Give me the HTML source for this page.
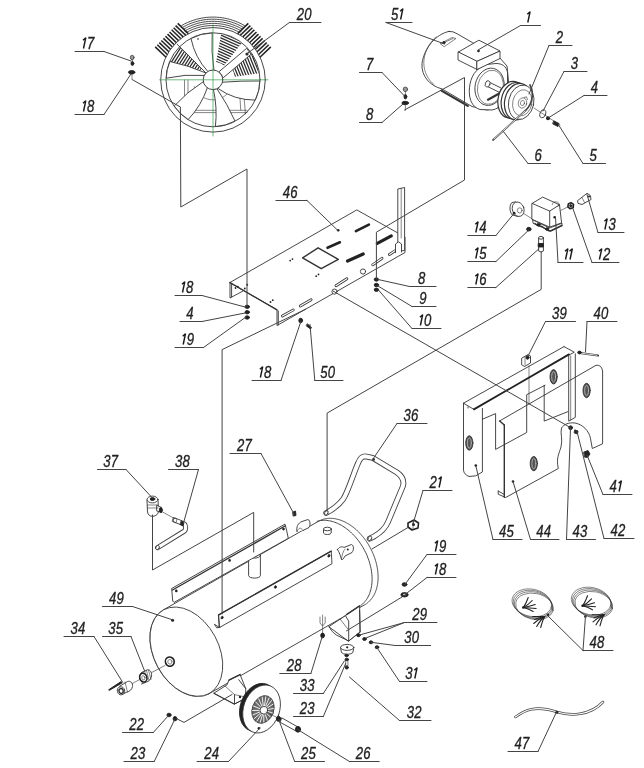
<!DOCTYPE html>
<html><head><meta charset="utf-8"><style>
html,body{margin:0;padding:0;background:#fff;}
svg{display:block;will-change:transform;}
svg *{vector-effect:non-scaling-stroke;}
line,polyline,path,polygon,circle,ellipse{stroke:#333;stroke-width:0.9;fill:none;stroke-linejoin:round;stroke-linecap:round;}
.l{stroke:#444;stroke-width:1;}
.one{stroke:#1a1a1a;stroke-width:1.45;fill:none;stroke-linecap:butt;stroke-linejoin:bevel;}
.w{fill:#fff;}
.d{fill:#222;stroke:none;}
.k{fill:#222;stroke:#222;}
.g{stroke:#3c9a4c;stroke-width:0.7;}
.t{stroke-width:0.6;}
.th{stroke-width:1.4;}
.fin{stroke:#222;stroke-width:1.5;stroke-linecap:butt;}
.rod{stroke:#333;stroke-width:2.2;}
.slot{stroke:#222;stroke-width:2.6;}
.slot2{stroke:#222;stroke-width:3.2;}
.slotw{stroke:#333;stroke-width:2.8;}
.slotwi{stroke:#fff;stroke-width:1.2;}
.tire{stroke:#111;stroke-width:3;}
.spk{stroke:#fff;stroke-width:0.9;}
.hubf{fill:#6a6a6a;stroke:#333;stroke-width:0.8;}
.th2{stroke-width:1.8;stroke:#222;}
.grom{fill:#555;stroke:#222;stroke-width:0.8;}
.gromi{fill:none;stroke:#bbb;stroke-width:0.8;}
.whi{stroke:#fff;stroke-width:0.8;}
.g2{fill:#999;stroke:#333;stroke-width:0.7;}
.fr{stroke:#222;stroke-width:1.1;}
.nut{fill:#fff;stroke:#222;stroke-width:1.6;}
.rod6{stroke:#444;stroke-width:1.7;}
.pr{fill:#fff;stroke:#333;stroke-width:1.2;}
.fin2{stroke:#2a2a2a;stroke-width:1.25;stroke-linecap:butt;}
text{font-family:"Liberation Sans",sans-serif;font-style:italic;font-size:16px;fill:#222;stroke:#222;stroke-width:0.3;}
</style></head><body>
<svg width="644" height="768" viewBox="0 0 644 768">
<rect width="644" height="768" fill="#fff"/>
<polygon points="150,637.3 150,636.5 150,635.8 150,635.1 150.1,634.4 150.1,633.6 150.2,632.9 150.3,632.2 150.4,631.5 150.5,630.8 150.6,630.1 150.7,629.5 150.8,628.8 151,628.1 151.1,627.5 151.3,626.8 151.5,626.2 151.7,625.5 151.9,624.9 152.1,624.3 152.3,623.7 152.5,623.1 152.7,622.5 153,621.9 153.2,621.3 153.5,620.7 153.8,620.2 154.1,619.6 154.4,619.1 154.7,618.6 155,618.1 155.3,617.5 155.7,617 156,616.6 156.4,616.1 156.7,615.6 157.1,615.2 157.5,614.7 157.9,614.3 158.3,613.9 158.7,613.5 159.1,613.1 159.5,612.7 160,612.3 160.4,611.9 160.9,611.6 161.3,611.2 161.8,610.9 162.3,610.6 162.7,610.3 163.2,610 318.5,521.3 319,521 319.5,520.8 320,520.5 320.5,520.3 321,520.1 321.5,519.9 322.1,519.7 322.6,519.5 323.2,519.3 323.7,519.1 324.3,519 324.8,518.9 325.4,518.8 326,518.6 326.5,518.6 327.1,518.5 327.7,518.4 328.3,518.4 328.9,518.3 329.5,518.3 330.1,518.3 330.7,518.3 331.3,518.3 331.9,518.4 332.5,518.4 333.1,518.5 333.8,518.5 334.4,518.6 335,518.7 335.6,518.8 336.3,519 336.9,519.1 337.5,519.3 338.1,519.4 338.8,519.6 339.4,519.8 340,520 340.7,520.2 341.3,520.4 342,520.7 342.6,521 343.2,521.2 343.9,521.5 344.5,521.8 345.1,522.1 345.8,522.4 346.4,522.8 347,523.1 347.6,523.5 348.3,523.8 348.9,524.2 349.5,524.6 350.1,525 350.8,525.4 351.4,525.9 352,526.3 352.6,526.8 353.2,527.2 353.8,527.7 354.4,528.2 355,528.7 355.6,529.2 356.2,529.7 356.7,530.2 357.3,530.8 357.9,531.3 358.5,531.9 359,532.4 359.6,533 360.1,533.6 360.7,534.2 361.2,534.8 361.7,535.4 362.3,536 362.8,536.6 363.3,537.3 363.8,537.9 364.3,538.5 364.8,539.2 365.3,539.9 365.8,540.5 366.3,541.2 366.7,541.9 367.2,542.6 367.6,543.3 368.1,544 368.5,544.7 368.9,545.4 369.3,546.1 369.8,546.9 370.2,547.6 370.5,548.3 370.9,549.1 371.3,549.8 371.7,550.6 372,551.3 372.4,552.1 372.7,552.8 373,553.6 373.3,554.3 373.7,555.1 374,555.9 374.2,556.7 374.5,557.4 374.8,558.2 375.1,559 375.3,559.8 375.5,560.5 375.8,561.3 376,562.1 376.2,562.9 376.4,563.7 376.6,564.4 376.7,565.2 376.9,566 377.1,566.8 377.2,567.5 377.3,568.3 377.5,569.1 377.6,569.9 377.7,570.6 377.8,571.4 377.8,572.2 377.9,572.9 378,573.7 378,574.4 378,575.2 378.1,575.9 378.1,576.7 378.1,577.4 378.1,578.2 378,578.9 378,579.6 378,580.3 377.9,581.1 377.8,581.8 377.8,582.5 377.7,583.2 377.6,583.9 377.5,584.6 377.3,585.2 377.2,585.9 377.1,586.6 376.9,587.2 376.8,587.9 376.6,588.5 376.4,589.2 376.2,589.8 376,590.4 375.8,591 375.5,591.6 375.3,592.2 375.1,592.8 374.8,593.4 374.5,594 374.3,594.5 374,595.1 373.7,595.6 373.4,596.1 373,596.6 372.7,597.2 372.4,597.7 372,598.1 371.7,598.6 371.3,599.1 370.9,599.5 370.6,600 370.2,600.4 369.8,600.8 369.4,601.2 368.9,601.6 368.5,602 368.1,602.4 367.6,602.8 367.2,603.1 366.7,603.5 366.3,603.8 365.8,604.1 365.3,604.4 364.8,604.7 209.6,693.4 209.1,693.7 208.6,693.9 208.1,694.2 207.6,694.4 207,694.6 206.5,694.8 206,695 205.4,695.2 204.9,695.4 204.3,695.6 203.8,695.7 203.2,695.8 202.7,695.9 202.1,696.1 201.5,696.1 200.9,696.2 200.4,696.3 199.8,696.3 199.2,696.4 198.6,696.4 198,696.4 197.4,696.4 196.8,696.4 196.1,696.3 195.5,696.3 194.9,696.2 194.3,696.2 193.7,696.1 193.1,696 192.4,695.9 191.8,695.7 191.2,695.6 190.5,695.4 189.9,695.3 189.3,695.1 188.6,694.9 188,694.7 187.4,694.5 186.7,694.3 186.1,694 185.5,693.7 184.8,693.5 184.2,693.2 183.6,692.9 182.9,692.6 182.3,692.3 181.7,691.9 181,691.6 180.4,691.2 179.8,690.9 179.2,690.5 178.5,690.1 177.9,689.7 177.3,689.3 176.7,688.8 176.1,688.4 175.5,687.9 174.9,687.5 174.3,687 173.7,686.5 173.1,686 172.5,685.5 171.9,685 171.3,684.5 170.7,683.9 170.2,683.4 169.6,682.8 169,682.3 168.5,681.7 167.9,681.1 167.4,680.5 166.8,679.9 166.3,679.3 165.8,678.7 165.3,678.1 164.7,677.4 164.2,676.8 163.7,676.2 163.2,675.5 162.8,674.8 162.3,674.2 161.8,673.5 161.3,672.8 160.9,672.1 160.4,671.4 160,670.7 159.6,670 159.1,669.3 158.7,668.6 158.3,667.8 157.9,667.1 157.5,666.4 157.1,665.6 156.8,664.9 156.4,664.1 156,663.4 155.7,662.6 155.3,661.9 155,661.1 154.7,660.4 154.4,659.6 154.1,658.8 153.8,658 153.5,657.3 153.3,656.5 153,655.7 152.7,654.9 152.5,654.2 152.3,653.4 152.1,652.6 151.9,651.8 151.7,651 151.5,650.3 151.3,649.5 151.1,648.7 151,647.9 150.8,647.2 150.7,646.4 150.6,645.6 150.5,644.8 150.4,644.1 150.3,643.3 150.2,642.5 150.1,641.8 150.1,641 150,640.3 150,639.5 150,638.8 150,638" class="w" />
<ellipse cx="186.4" cy="651.7" rx="47.7" ry="32.4" transform="rotate(61.6 186.4 651.7)" class="w" />
<polyline points="317.2,521.3 318.3,521 319.5,520.7 320.7,520.5 321.9,520.4 323.1,520.3 324.4,520.3 325.7,520.3 326.9,520.4 328.2,520.6 329.5,520.8 330.9,521.1 332.2,521.4 333.5,521.8 334.8,522.3 336.2,522.8 337.5,523.3 338.8,524 340.1,524.6 341.4,525.3 342.7,526.1 344,527 345.3,527.8 346.6,528.8 347.9,529.7 349.1,530.8 350.3,531.8 351.5,533 352.7,534.1 353.9,535.3 355,536.5 356.1,537.8 357.2,539.1 358.3,540.5 359.3,541.9 360.3,543.3 361.2,544.7 362.2,546.2 363.1,547.6 363.9,549.2 364.7,550.7 365.5,552.2 366.3,553.8 367,555.4 367.6,557 368.2,558.6 368.8,560.2 369.3,561.8 369.8,563.5 370.2,565.1 370.6,566.7 371,568.3 371.3,570 371.5,571.6 371.7,573.2 371.9,574.8 372,576.4 372.1,577.9 372.1,579.5 372,581 372,582.5 371.8,584 371.6,585.5 371.4,586.9 371.1,588.3 370.8,589.7 370.4,591 370,592.3 369.6,593.6 369.1,594.8 368.5,596 367.9,597.2 367.3,598.3 366.6,599.4 365.9,600.4 365.1,601.3 364.3,602.3 363.5,603.1 362.6,604 361.7,604.7 360.7,605.5" />
<circle cx="172.6" cy="620.3" r="1.5" class="d"/>
<ellipse cx="169.8" cy="661.6" rx="4.4" ry="4.6" transform="rotate(-20 169.8 661.6)" class="nut" />
<ellipse cx="169.9" cy="661.8" rx="2.1" ry="2.3" transform="rotate(-20 169.9 661.8)" class="t" />
<path d="M248.6,555.5 L248.6,575.5 A5.9,2.6 0 0 0 260.4,575.5 L260.4,555.5" class="w" />
<ellipse cx="254.5" cy="555.5" rx="5.9" ry="2.6" class="w" />
<ellipse cx="254.5" cy="555.3" rx="3.3" ry="1.4" class="t" />
<path d="M297,531.5 C296,527 298,523 302,521.5 L308,519.5 C310.5,520.5 310.5,525 309,527.5 L303,530.5" class="w" />
<path d="M297,531.5 C298.5,528 300.5,526.5 303,530.5" class="t" />
<polygon points="293,512 295.5,511 296,515.5 293.5,516" class="k" />
<path d="M323.5,529 L323.5,533 A3.9,1.8 0 0 0 331.2,533 L331.2,529" class="w" />
<ellipse cx="327.4" cy="529" rx="3.9" ry="1.8" class="w" />
<path d="M337.5,549.5 C339,547 342,546 344,547.5 L351.5,544.5 C354,545.5 354,550 352,552.5 L345,556 C343.5,558.5 343,560 341.5,559.5 C340.5,556 339.5,552.5 337.5,549.5 Z" class="w" />
<path d="M341.5,559.5 C342,555 343,551 345,549" class="t" />
<circle cx="347.8" cy="549.4" r="1" class="d"/>
<polygon points="214,693.2 227,684.8 228.9,680.2 240.1,674.6 245.7,688.6 245.7,698.3 234.5,704" class="w" />
<polyline points="214,693.2 234.5,704 245.7,698.3" />
<line x1="234.5" y1="694.6" x2="234.5" y2="704"/>
<polyline points="225,686 234.5,694.6 245.5,697" class="t" />
<polyline points="238.7,679.7 245.7,688.6" />
<line x1="228.9" y1="680.2" x2="240.1" y2="674.6" class="th"/>
<circle cx="240" cy="697" r="1.2" class="d"/>
<polygon points="329.1,626.5 345.4,615.7 346.5,614.6 359.6,605.9 360.1,632 348.7,641" class="w" />
<path d="M329.1,626.5 C331,630 333,633 336.7,635.2 L348.7,641" />
<polyline points="345.4,615.7 348.7,621.1 348.7,640.7" />
<line x1="359.6" y1="610.2" x2="360.1" y2="632"/>
<line x1="340" y1="618.9" x2="347.6" y2="628.7" class="t"/>
<line x1="346.5" y1="614.6" x2="359.6" y2="605.9" class="th"/>
<line x1="348.7" y1="641" x2="360.1" y2="632" class="t"/>
<polyline points="320,617 320,623 322.6,626 325.2,623 325.2,617" class="t" />
<line x1="322.6" y1="615" x2="322.6" y2="634" class="t"/>
<ellipse cx="322.6" cy="635.5" rx="1.9" ry="2.4" class="k" />
<path d="M340.5,647.5 L341.5,652.5 A6,2.6 0 0 0 352.9,652.5 L353.8,647.5" class="w" />
<ellipse cx="347.2" cy="647.4" rx="6.6" ry="3" class="w" />
<circle cx="347.2" cy="647.3" r="1.1" class="d"/>
<ellipse cx="346.6" cy="655.5" rx="1.8" ry="1.3" class="k" />
<ellipse cx="346.8" cy="659.5" rx="1.8" ry="1.3" class="k" />
<polyline points="345.6,661 345.6,666 347.9,666 347.9,661" class="t" />
<ellipse cx="346.8" cy="667.5" rx="1.6" ry="1.6" class="k" />
<ellipse cx="358.5" cy="635.2" rx="1.8" ry="1.5" class="k" />
<ellipse cx="364.5" cy="639" rx="1.8" ry="1.5" class="k" />
<ellipse cx="371" cy="642.3" rx="1.8" ry="1.5" class="k" />
<ellipse cx="377" cy="647.2" rx="1.8" ry="1.5" class="k" />
<ellipse cx="404.5" cy="584.5" rx="2.4" ry="1.8" class="k" />
<ellipse cx="404.5" cy="594.8" rx="3.6" ry="2.2" class="k" />
<ellipse cx="404.5" cy="594.5" rx="1.8" ry="1" class="w" />
<polygon points="408,523 414,520 418.5,523 418,528 412,530 408,527" class="nut" />
<circle cx="413.5" cy="524.5" r="1.5" class="d"/>
<line x1="413" y1="521" x2="413" y2="529" class="t"/>
<ellipse cx="258.4" cy="707.4" rx="18" ry="24.7" transform="rotate(20 258.4 707.4)" class="k" />
<ellipse cx="261.6" cy="709" rx="18" ry="24.7" transform="rotate(20 261.6 709)" class="w" />
<ellipse cx="263" cy="709.5" rx="10.8" ry="14.2" transform="rotate(20 263 709.5)" class="hubf" />
<line x1="263.8" y1="710.3" x2="272.4" y2="712.9" class="spk"/>
<line x1="263.8" y1="710.3" x2="270.3" y2="717" class="spk"/>
<line x1="263.8" y1="710.3" x2="267.3" y2="720.1" class="spk"/>
<line x1="263.8" y1="710.3" x2="263.8" y2="722" class="spk"/>
<line x1="263.8" y1="710.3" x2="260.2" y2="722.3" class="spk"/>
<line x1="263.8" y1="710.3" x2="256.9" y2="721.1" class="spk"/>
<line x1="263.8" y1="710.3" x2="254.4" y2="718.5" class="spk"/>
<line x1="263.8" y1="710.3" x2="252.9" y2="714.9" class="spk"/>
<line x1="263.8" y1="710.3" x2="252.6" y2="710.5" class="spk"/>
<line x1="263.8" y1="710.3" x2="253.6" y2="706.1" class="spk"/>
<line x1="263.8" y1="710.3" x2="255.7" y2="702" class="spk"/>
<line x1="263.8" y1="710.3" x2="258.7" y2="698.9" class="spk"/>
<line x1="263.8" y1="710.3" x2="262.2" y2="697" class="spk"/>
<line x1="263.8" y1="710.3" x2="265.8" y2="696.7" class="spk"/>
<line x1="263.8" y1="710.3" x2="269.1" y2="697.9" class="spk"/>
<line x1="263.8" y1="710.3" x2="271.6" y2="700.5" class="spk"/>
<line x1="263.8" y1="710.3" x2="273.1" y2="704.1" class="spk"/>
<line x1="263.8" y1="710.3" x2="273.4" y2="708.5" class="spk"/>
<circle cx="263.8" cy="710.3" r="3.8" class="w" />
<circle cx="258.9" cy="728.3" r="1.3" class="d"/>
<polygon points="282,718 297,726.5 296,731 280.5,722.5" class="w" />
<ellipse cx="278.5" cy="718.8" rx="2.2" ry="2.6" class="k" />
<ellipse cx="298" cy="729.3" rx="2.6" ry="2.9" class="k" />
<line x1="266" y1="712" x2="276" y2="717" class="t"/>
<ellipse cx="169" cy="715" rx="2.1" ry="1.8" class="k" />
<ellipse cx="175" cy="718.7" rx="1.9" ry="2.2" class="k" />
<line x1="131.7" y1="683.8" x2="139.6" y2="679.6" class="t"/>
<line x1="150.8" y1="673" x2="165" y2="665.5" class="t"/>
<path d="M141.5,672.5 L147.5,669.8 C150.5,669.5 152,673 151.5,676 C151,679 149,681.5 146.5,682 L141.5,684" class="w" />
<ellipse cx="143.3" cy="677.6" rx="3.6" ry="4.5" transform="rotate(-15 143.3 677.6)" class="nut" />
<ellipse cx="143.4" cy="677.8" rx="1.6" ry="2.2" transform="rotate(-15 143.4 677.8)" class="t" />
<line x1="146.5" y1="670.5" x2="149" y2="680.5" class="t"/>
<line x1="148.5" y1="670" x2="151" y2="679.5" class="t"/>
<path d="M119.5,686.3 L127.5,681.5 C130.5,680.5 133,683 132.5,686.5 C132,689.5 129.5,691.5 127,692 L122.5,694.3" class="w" />
<ellipse cx="121" cy="690.8" rx="3.6" ry="4" transform="rotate(-15 121 690.8)" class="w" />
<ellipse cx="121.1" cy="691" rx="2.1" ry="2.4" transform="rotate(-15 121.1 691)" class="th" />
<polygon points="108.9,689.6 121,681.6 122.3,682.8 109.6,690.2" class="k" />
<line x1="125" y1="682" x2="127.5" y2="692" class="t"/>
<polygon points="172,588.3 285,524.1 286.5,530 288.3,538.3 174.1,602.4 173,601.3" class="w" />
<line x1="172.5" y1="590" x2="285" y2="526" class="th"/>
<circle cx="176.3" cy="590.9" r="1.3" class="d"/>
<circle cx="229.6" cy="560.4" r="1.3" class="d"/>
<circle cx="283.5" cy="529.1" r="1.3" class="d"/>
<polygon points="218.7,614.9 331.2,551.1 332,563.7 219.9,627.3" class="w" />
<polyline points="218.7,614.9 219.2,627.3 214.3,624.2 216.8,627.9 219.9,627.3" />
<line x1="218.7" y1="614.9" x2="331.2" y2="551.1" class="th"/>
<ellipse cx="222.1" cy="617.6" rx="0.9" ry="1.4" transform="rotate(20 222.1 617.6)" class="k" />
<ellipse cx="275.4" cy="587" rx="0.9" ry="1.4" transform="rotate(20 275.4 587)" class="k" />
<ellipse cx="328.9" cy="555.8" rx="0.9" ry="1.4" transform="rotate(20 328.9 555.8)" class="k" />
<polyline points="240.2,32.8 238.9,32.1 237.7,31.4 236.4,30.8 235.1,30.2 233.8,29.6 232.5,29.1 231.1,28.6 229.8,28.2 228.4,27.7 227.1,27.4 225.7,27 224.3,26.7 222.9,26.4 221.5,26.2 220.1,26 218.7,25.8 217.3,25.7 215.8,25.6 214.4,25.5 213,25.5 211.6,25.5 210.2,25.6 208.7,25.7 207.3,25.8 205.9,26 204.5,26.2 203.1,26.4 201.7,26.7 200.3,27 198.9,27.4 197.6,27.7 196.2,28.2 194.9,28.6 193.5,29.1 192.2,29.6 190.9,30.2 189.6,30.8 188.3,31.4 187.1,32.1 185.9,32.8" />
<polyline points="241.2,31 239.9,30.2 238.6,29.5 237.3,28.9 235.9,28.3 234.6,27.7 233.2,27.1 231.8,26.6 230.4,26.2 229,25.7 227.6,25.3 226.2,25 224.7,24.6 223.3,24.3 221.8,24.1 220.4,23.9 218.9,23.7 217.4,23.6 216,23.5 214.5,23.4 213,23.4 211.5,23.4 210,23.5 208.6,23.6 207.1,23.7 205.6,23.9 204.2,24.1 202.7,24.3 201.3,24.6 199.8,25 198.4,25.3 197,25.7 195.6,26.2 194.2,26.6 192.8,27.1 191.4,27.7 190.1,28.3 188.7,28.9 187.4,29.5 186.1,30.2 184.8,31" />
<polyline points="242.2,29.1 240.9,28.4 239.6,27.7 238.2,27 236.8,26.4 235.4,25.8 234,25.2 232.5,24.7 231.1,24.2 229.6,23.7 228.1,23.3 226.7,22.9 225.2,22.6 223.7,22.3 222.2,22 220.6,21.8 219.1,21.6 217.6,21.5 216.1,21.4 214.5,21.3 213,21.3 211.5,21.3 209.9,21.4 208.4,21.5 206.9,21.6 205.4,21.8 203.8,22 202.3,22.3 200.8,22.6 199.3,22.9 197.9,23.3 196.4,23.7 194.9,24.2 193.5,24.7 192,25.2 190.6,25.8 189.2,26.4 187.8,27 186.4,27.7 185.1,28.4 183.8,29.1" />
<polyline points="243.3,27.3 241.9,26.5 240.5,25.8 239.1,25.1 237.6,24.4 236.2,23.8 234.7,23.2 233.2,22.7 231.7,22.2 230.2,21.7 228.7,21.3 227.1,20.9 225.6,20.5 224,20.2 222.5,19.9 220.9,19.7 219.3,19.5 217.8,19.4 216.2,19.3 214.6,19.2 213,19.2 211.4,19.2 209.8,19.3 208.2,19.4 206.7,19.5 205.1,19.7 203.5,19.9 202,20.2 200.4,20.5 198.9,20.9 197.3,21.3 195.8,21.7 194.3,22.2 192.8,22.7 191.3,23.2 189.8,23.8 188.4,24.4 186.9,25.1 185.5,25.8 184.1,26.5 182.7,27.3" />
<polyline points="244.4,25.5 242.9,24.7 241.5,23.9 240,23.2 238.5,22.5 237,21.9 235.5,21.3 233.9,20.7 232.4,20.2 230.8,19.7 229.2,19.2 227.6,18.8 226,18.5 224.4,18.1 222.8,17.9 221.2,17.6 219.6,17.4 217.9,17.3 216.3,17.2 214.6,17.1 213,17.1 211.4,17.1 209.7,17.2 208.1,17.3 206.4,17.4 204.8,17.6 203.2,17.9 201.6,18.1 200,18.5 198.4,18.8 196.8,19.2 195.2,19.7 193.6,20.2 192.1,20.7 190.5,21.3 189,21.9 187.5,22.5 186,23.2 184.5,23.9 183.1,24.7 181.7,25.5" />
<line x1="167.1" y1="58.3" x2="155.2" y2="46.9" class="fin"/>
<line x1="169.2" y1="56.2" x2="157.3" y2="44.7" class="fin"/>
<line x1="171.2" y1="54" x2="159.3" y2="42.6" class="fin"/>
<line x1="173.3" y1="51.9" x2="161.3" y2="40.5" class="fin"/>
<line x1="175.3" y1="49.8" x2="163.4" y2="38.4" class="fin"/>
<line x1="177.3" y1="47.6" x2="165.4" y2="36.2" class="fin"/>
<line x1="179.4" y1="45.5" x2="167.5" y2="34.1" class="fin"/>
<line x1="181.4" y1="43.4" x2="169.5" y2="32" class="fin"/>
<line x1="183.5" y1="41.3" x2="171.6" y2="29.8" class="fin"/>
<line x1="185.5" y1="39.1" x2="173.6" y2="27.7" class="fin"/>
<line x1="187.5" y1="37" x2="175.6" y2="25.6" class="fin"/>
<line x1="189.6" y1="34.9" x2="177.7" y2="23.4" class="fin"/>
<line x1="236.4" y1="34.9" x2="248.3" y2="23.4" class="fin"/>
<line x1="238.5" y1="37" x2="250.4" y2="25.6" class="fin"/>
<line x1="240.5" y1="39.1" x2="252.4" y2="27.7" class="fin"/>
<line x1="242.5" y1="41.3" x2="254.4" y2="29.8" class="fin"/>
<line x1="244.6" y1="43.4" x2="256.5" y2="32" class="fin"/>
<line x1="246.6" y1="45.5" x2="258.5" y2="34.1" class="fin"/>
<line x1="248.7" y1="47.6" x2="260.6" y2="36.2" class="fin"/>
<line x1="250.7" y1="49.8" x2="262.6" y2="38.4" class="fin"/>
<line x1="252.7" y1="51.9" x2="264.7" y2="40.5" class="fin"/>
<line x1="254.8" y1="54" x2="266.7" y2="42.6" class="fin"/>
<line x1="256.8" y1="56.2" x2="268.7" y2="44.7" class="fin"/>
<line x1="258.9" y1="58.3" x2="270.8" y2="46.9" class="fin"/>
<circle cx="213" cy="79.8" r="52.3" class="w" />
<circle cx="213" cy="79.8" r="47" />
<clipPath id="h1"><path d="M201.7,68.5 L180.1,46.9 A46.5,46.5 0 0 0 169.3,63.9 L198.0,74.3 A16,16 0 0 1 201.7,68.5 Z"/></clipPath>
<g clip-path="url(#h1)"><line x1="178.0" y1="104.9" x2="221.0" y2="37.5" class="fin2"/><line x1="175.8" y1="103.5" x2="218.8" y2="36.1" class="fin2"/><line x1="173.6" y1="102.1" x2="216.6" y2="34.7" class="fin2"/><line x1="171.4" y1="100.7" x2="214.4" y2="33.3" class="fin2"/><line x1="169.2" y1="99.4" x2="212.2" y2="31.9" class="fin2"/><line x1="167.0" y1="98.0" x2="210.0" y2="30.5" class="fin2"/><line x1="164.9" y1="96.6" x2="207.8" y2="29.1" class="fin2"/><line x1="162.7" y1="95.2" x2="205.6" y2="27.7" class="fin2"/><line x1="160.5" y1="93.8" x2="203.5" y2="26.3" class="fin2"/><line x1="158.3" y1="92.4" x2="201.3" y2="24.9" class="fin2"/><line x1="156.1" y1="91.0" x2="199.1" y2="23.5" class="fin2"/><line x1="153.9" y1="89.6" x2="196.9" y2="22.1" class="fin2"/><line x1="151.7" y1="88.2" x2="194.7" y2="20.7" class="fin2"/><line x1="149.5" y1="86.8" x2="192.5" y2="19.3" class="fin2"/><line x1="147.3" y1="85.4" x2="190.3" y2="17.9" class="fin2"/><line x1="145.1" y1="84.0" x2="188.1" y2="16.5" class="fin2"/><line x1="142.9" y1="82.6" x2="185.9" y2="15.1" class="fin2"/><line x1="140.7" y1="81.2" x2="183.7" y2="13.7" class="fin2"/><line x1="138.5" y1="79.8" x2="181.5" y2="12.3" class="fin2"/><line x1="136.4" y1="78.4" x2="179.3" y2="10.9" class="fin2"/><line x1="134.2" y1="77.0" x2="177.1" y2="9.5" class="fin2"/><line x1="132.0" y1="75.6" x2="174.9" y2="8.1" class="fin2"/><line x1="129.8" y1="74.2" x2="172.8" y2="6.7" class="fin2"/><line x1="127.6" y1="72.8" x2="170.6" y2="5.3" class="fin2"/><line x1="125.4" y1="71.4" x2="168.4" y2="3.9" class="fin2"/><line x1="123.2" y1="70.0" x2="166.2" y2="2.5" class="fin2"/><line x1="121.0" y1="68.6" x2="164.0" y2="1.1" class="fin2"/><line x1="118.8" y1="67.2" x2="161.8" y2="-0.3" class="fin2"/><line x1="116.6" y1="65.8" x2="159.6" y2="-1.6" class="fin2"/><line x1="114.4" y1="64.4" x2="157.4" y2="-3.0" class="fin2"/></g>
<clipPath id="h2"><path d="M224.1,65.6 L241.6,43.2 A46.5,46.5 0 0 0 221.1,34.0 L216.1,62.1 A18,18 0 0 1 224.1,65.6 Z"/></clipPath>
<g clip-path="url(#h2)"><line x1="183.8" y1="47.1" x2="256.9" y2="79.6" class="fin2"/><line x1="184.8" y1="44.7" x2="257.9" y2="77.3" class="fin2"/><line x1="185.9" y1="42.3" x2="259.0" y2="74.9" class="fin2"/><line x1="187.0" y1="40.0" x2="260.0" y2="72.5" class="fin2"/><line x1="188.0" y1="37.6" x2="261.1" y2="70.1" class="fin2"/><line x1="189.1" y1="35.2" x2="262.2" y2="67.7" class="fin2"/><line x1="190.1" y1="32.8" x2="263.2" y2="65.4" class="fin2"/><line x1="191.2" y1="30.5" x2="264.3" y2="63.0" class="fin2"/><line x1="192.2" y1="28.1" x2="265.3" y2="60.6" class="fin2"/><line x1="193.3" y1="25.7" x2="266.4" y2="58.2" class="fin2"/><line x1="194.4" y1="23.3" x2="267.4" y2="55.9" class="fin2"/><line x1="195.4" y1="21.0" x2="268.5" y2="53.5" class="fin2"/><line x1="196.5" y1="18.6" x2="269.6" y2="51.1" class="fin2"/><line x1="197.5" y1="16.2" x2="270.6" y2="48.7" class="fin2"/><line x1="198.6" y1="13.8" x2="271.7" y2="46.4" class="fin2"/><line x1="199.6" y1="11.5" x2="272.7" y2="44.0" class="fin2"/><line x1="200.7" y1="9.1" x2="273.8" y2="41.6" class="fin2"/><line x1="201.8" y1="6.7" x2="274.8" y2="39.2" class="fin2"/><line x1="202.8" y1="4.3" x2="275.9" y2="36.9" class="fin2"/><line x1="203.9" y1="2.0" x2="277.0" y2="34.5" class="fin2"/><line x1="204.9" y1="-0.4" x2="278.0" y2="32.1" class="fin2"/><line x1="206.0" y1="-2.8" x2="279.1" y2="29.7" class="fin2"/><line x1="207.0" y1="-5.2" x2="280.1" y2="27.4" class="fin2"/><line x1="208.1" y1="-7.5" x2="281.2" y2="25.0" class="fin2"/><line x1="209.2" y1="-9.9" x2="282.2" y2="22.6" class="fin2"/><line x1="210.2" y1="-12.3" x2="283.3" y2="20.2" class="fin2"/><line x1="211.3" y1="-14.7" x2="284.4" y2="17.9" class="fin2"/><line x1="212.3" y1="-17.0" x2="285.4" y2="15.5" class="fin2"/><line x1="213.4" y1="-19.4" x2="286.5" y2="13.1" class="fin2"/><line x1="214.4" y1="-21.8" x2="287.5" y2="10.7" class="fin2"/></g>
<clipPath id="h3"><path d="M234.8,76.7 L259.0,73.3 A46.5,46.5 0 0 0 250.6,52.5 L230.8,66.9 A22,22 0 0 1 234.8,76.7 Z"/></clipPath>
<g clip-path="url(#h3)"><line x1="218.4" y1="34.5" x2="248.4" y2="108.6" class="fin2"/><line x1="220.8" y1="33.5" x2="250.8" y2="107.7" class="fin2"/><line x1="223.2" y1="32.5" x2="253.2" y2="106.7" class="fin2"/><line x1="225.6" y1="31.5" x2="255.6" y2="105.7" class="fin2"/><line x1="228.1" y1="30.6" x2="258.0" y2="104.8" class="fin2"/><line x1="230.5" y1="29.6" x2="260.4" y2="103.8" class="fin2"/><line x1="232.9" y1="28.6" x2="262.8" y2="102.8" class="fin2"/><line x1="235.3" y1="27.7" x2="265.3" y2="101.8" class="fin2"/><line x1="237.7" y1="26.7" x2="267.7" y2="100.9" class="fin2"/><line x1="240.1" y1="25.7" x2="270.1" y2="99.9" class="fin2"/><line x1="242.5" y1="24.7" x2="272.5" y2="98.9" class="fin2"/><line x1="244.9" y1="23.8" x2="274.9" y2="97.9" class="fin2"/><line x1="247.3" y1="22.8" x2="277.3" y2="97.0" class="fin2"/><line x1="249.8" y1="21.8" x2="279.7" y2="96.0" class="fin2"/><line x1="252.2" y1="20.8" x2="282.1" y2="95.0" class="fin2"/><line x1="254.6" y1="19.9" x2="284.5" y2="94.0" class="fin2"/><line x1="257.0" y1="18.9" x2="287.0" y2="93.1" class="fin2"/><line x1="259.4" y1="17.9" x2="289.4" y2="92.1" class="fin2"/><line x1="261.8" y1="16.9" x2="291.8" y2="91.1" class="fin2"/><line x1="264.2" y1="16.0" x2="294.2" y2="90.1" class="fin2"/><line x1="266.6" y1="15.0" x2="296.6" y2="89.2" class="fin2"/><line x1="269.0" y1="14.0" x2="299.0" y2="88.2" class="fin2"/><line x1="271.4" y1="13.0" x2="301.4" y2="87.2" class="fin2"/><line x1="273.9" y1="12.1" x2="303.8" y2="86.2" class="fin2"/><line x1="276.3" y1="11.1" x2="306.2" y2="85.3" class="fin2"/><line x1="278.7" y1="10.1" x2="308.6" y2="84.3" class="fin2"/><line x1="281.1" y1="9.1" x2="311.1" y2="83.3" class="fin2"/><line x1="283.5" y1="8.2" x2="313.5" y2="82.3" class="fin2"/><line x1="285.9" y1="7.2" x2="315.9" y2="81.4" class="fin2"/><line x1="288.3" y1="6.2" x2="318.3" y2="80.4" class="fin2"/></g>
<line x1="177" y1="44.1" x2="206.1" y2="73.1"/>
<line x1="190" y1="110.3" x2="247" y2="110.3" class="t"/>
<line x1="190" y1="112.6" x2="247" y2="112.6" class="t"/>
<line x1="184.5" y1="80" x2="184.5" y2="100" class="t"/>
<line x1="188" y1="80" x2="188" y2="95" class="t"/>
<line x1="240" y1="98" x2="240.7" y2="110" class="t"/>
<line x1="244.2" y1="98.5" x2="245.4" y2="113.9" class="t"/>
<polyline points="194.2,86.6 194.6,87.7 195.1,88.7 195.6,89.7 196.2,90.7 196.9,91.6 197.6,92.5 198.3,93.4 199.1,94.2 199.9,95 200.8,95.7 201.7,96.3 202.7,96.9 203.7,97.5 204.7,98 205.8,98.4 206.8,98.8 207.9,99.1 209,99.4 210.1,99.6 211.3,99.7 212.4,99.8 213.5,99.8 214.7,99.7 215.8,99.6 216.9,99.4 218,99.2 219.1,98.8 220.2,98.5 221.2,98 222.2,97.5 223.2,97 224.2,96.4 225.1,95.7 226,95 226.8,94.2 227.6,93.4 228.4,92.6 229.1,91.7 229.7,90.8 230.3,89.8" class="t" />
<path d="M213.9,69.8 Q211.0,51.4 212.2,33.0 A46.8,46.8 0 0 0 191.0,38.5 Q194.9,57.6 207.7,71.3 Z" class="w" />
<path d="M205.8,72.9 Q188.2,65.3 169.9,61.5 A46.8,46.8 0 0 0 166.2,78.2 Q184.8,73.9 204.0,75.4 Z" class="w" />
<path d="M203.2,81.7 Q186.9,92.0 174.2,106.0 A46.8,46.8 0 0 0 188.2,119.5 Q201.2,105.8 207.3,88.0 Z" class="w" />
<path d="M213.5,89.8 Q217.5,107.9 215.4,126.5 A46.8,46.8 0 0 0 235.0,121.1 Q227.5,104.2 217.1,88.9 Z" class="w" />
<path d="M218.0,88.5 Q234.3,100.2 255.2,100.1 A46.8,46.8 0 0 0 259.8,81.0 Q241.5,80.7 222.7,82.2 Z" class="w" />
<polygon points="219.4,71.4 246.7,48.3 251,54.3 223.7,77.4" class="w" />
<circle cx="213" cy="79.8" r="9.8" class="w" />
<line x1="159.5" y1="79.8" x2="268" y2="79.8" class="g"/>
<line x1="213" y1="25" x2="213" y2="136" class="g"/>
<circle cx="247" cy="54" r="1.6" class="d"/>
<circle cx="198" cy="39" r="0.8" class="d"/>
<polygon points="230,282.5 356.8,209.9 405,237 405,252.5 277,325.5 277,310" class="w" />
<line x1="230" y1="282.5" x2="277" y2="310" class="th"/>
<polyline points="230,282.5 230,298 243,291" />
<line x1="231.6" y1="284" x2="231.6" y2="297"/>
<line x1="278.3" y1="311" x2="278.3" y2="325"/>
<polygon points="302.6,257.9 318.1,247.8 338.3,259.4 321.2,268.7" class="th" />
<line x1="327.5" y1="247.8" x2="339.9" y2="242.3" class="slot"/>
<line x1="355.9" y1="231.2" x2="368.9" y2="224.7" class="slot"/>
<line x1="347.6" y1="261" x2="363.2" y2="254" class="slot2"/>
<line x1="377.3" y1="243.3" x2="391.3" y2="235.9" class="slot2"/>
<line x1="336" y1="285.8" x2="346.9" y2="278.8" class="slotw"/>
<line x1="336" y1="285.8" x2="346.9" y2="278.8" class="slotwi"/>
<line x1="300.3" y1="306" x2="311.1" y2="299.8" class="slotw"/>
<line x1="300.3" y1="306" x2="311.1" y2="299.8" class="slotwi"/>
<line x1="282.4" y1="316" x2="293.3" y2="309.9" class="slotw"/>
<line x1="282.4" y1="316" x2="293.3" y2="309.9" class="slotwi"/>
<line x1="372.7" y1="264.8" x2="382" y2="258.3" class="slotw"/>
<line x1="372.7" y1="264.8" x2="382" y2="258.3" class="slotwi"/>
<line x1="389.4" y1="254.5" x2="395" y2="250.8" class="slotw"/>
<line x1="389.4" y1="254.5" x2="395" y2="250.8" class="slotwi"/>
<circle cx="235.5" cy="288" r="0.9" class="d"/>
<circle cx="237.8" cy="286.6" r="0.9" class="d"/>
<circle cx="244.8" cy="288.5" r="0.9" class="d"/>
<circle cx="270.5" cy="302" r="0.9" class="d"/>
<circle cx="272.8" cy="300.2" r="0.9" class="d"/>
<circle cx="290.2" cy="260.6" r="0.9" class="d"/>
<circle cx="292.5" cy="259.1" r="0.9" class="d"/>
<circle cx="316.2" cy="276.2" r="0.9" class="d"/>
<circle cx="318.5" cy="274.4" r="0.9" class="d"/>
<circle cx="334.5" cy="291.6" r="2.6" class="w" />
<circle cx="363" cy="271.5" r="2.6" class="w" />
<circle cx="338.2" cy="230.3" r="1.3" class="d"/>
<polygon points="397.8,251 397.8,189 404.6,187.5 404.6,250" class="w" />
<line x1="401.2" y1="188.5" x2="401.2" y2="238" class="t"/>
<polyline points="395.5,252.7 395.5,244 398.5,241.8 401.5,244 401.5,252" class="w" />
<ellipse cx="247.2" cy="306.8" rx="2.2" ry="1.7" class="k" />
<ellipse cx="247.2" cy="312.2" rx="2.2" ry="1.7" class="k" />
<ellipse cx="247.2" cy="317.5" rx="2.2" ry="1.7" class="k" />
<circle cx="247.2" cy="284.8" r="1" class="d"/>
<ellipse cx="376.4" cy="279.5" rx="2.2" ry="1.7" class="k" />
<ellipse cx="376.4" cy="285" rx="2.2" ry="1.7" class="k" />
<ellipse cx="376.4" cy="289.8" rx="2.2" ry="1.7" class="k" />
<ellipse cx="300.7" cy="320.5" rx="1.9" ry="2.3" class="k" />
<polygon points="307.5,324 311.5,327.5 310.5,329 306.5,326" class="k" />
<path d="M449,31.4 C436,34 424,48 422,63.7 C421,76 430,86 442,88.9 L472,106.5 L487,110 L505,106 L509,86 L507,66 L499,57 L472.4,42.6 L457.2,33.8 Q453,31 449,31.4 Z" class="w" />
<path d="M436.1,36.7 C428,44 423.8,54 423.8,63 C424,72 428,80 434,84.5" class="t" />
<polygon points="440.5,43.5 452,37.5 456,38.5 444.5,46.5" class="t" />
<line x1="442" y1="43.5" x2="453" y2="38.5" class="t"/>
<circle cx="444" cy="42.5" r="1.6" class="d"/>
<path d="M479,68.5 C471,74 468.5,86 469.5,95 C470.5,103 474,107.5 480,109.5 L492,110 C502,108 506.5,100 507.5,92 L507.5,72 C506,66 502,63.5 496,63.5 L486,64.5 Z" class="w" />
<ellipse cx="489.6" cy="86.8" rx="14.5" ry="18.8" transform="rotate(12 489.6 86.8)" class="w" />
<ellipse cx="490.4" cy="87.3" rx="12.8" ry="17.2" transform="rotate(12 490.4 87.3)" class="t" />
<polygon points="488.5,81.8 501.5,88.2 499.5,92.4 486.5,86" class="w" />
<ellipse cx="487.6" cy="83.9" rx="2.3" ry="3.3" transform="rotate(20 487.6 83.9)" class="w" />
<line x1="488" y1="99.7" x2="505.5" y2="90" class="rod"/>
<polygon points="458.4,52 478.9,40.2 500,51 477.1,61.3" class="w" />
<polygon points="458.4,52 477.1,61.3 477.1,69.5 458.4,60.2" class="w" />
<polygon points="477.1,61.3 500,51 500,58.5 477.1,69.5" class="w" />
<circle cx="478.5" cy="51" r="1.3" class="d"/>
<line x1="441.4" y1="90.6" x2="467.8" y2="105.9" class="rod"/>
<ellipse cx="511.3" cy="99.6" rx="13.2" ry="18.4" transform="rotate(12 511.3 99.6)" class="pr" />
<ellipse cx="514.6" cy="100.6" rx="13.2" ry="18.4" transform="rotate(12 514.6 100.6)" class="pr" />
<ellipse cx="517.9" cy="101.6" rx="13.2" ry="18.4" transform="rotate(12 517.9 101.6)" class="pr" />
<ellipse cx="521.2" cy="102.3" rx="12.6" ry="17.4" transform="rotate(12 521.2 102.3)" class="w" />
<ellipse cx="522.3" cy="102.8" rx="9.6" ry="13.2" transform="rotate(12 522.3 102.8)" class="t" />
<ellipse cx="522.5" cy="103" rx="4.2" ry="5.2" transform="rotate(14 522.5 103)" class="t" />
<ellipse cx="522.5" cy="103" rx="2" ry="2.6" transform="rotate(14 522.5 103)" class="t" />
<polyline points="524,97.5 526.5,96.8 527.5,99.5" class="t" />
<path d="M493,140 L526,110 C533,103 534,92 530,85" class="rod6" />
<line x1="494" y1="139" x2="525" y2="111" class="whi"/>
<ellipse cx="542.8" cy="113.8" rx="2.8" ry="4.2" transform="rotate(20 542.8 113.8)" class="w" />
<circle cx="548" cy="118.2" r="2" class="d"/>
<polygon points="554,121 559,123.5 558,126.5 553,124" class="k" />
<line x1="534" y1="108" x2="560" y2="125" class="t"/>
<path d="M326.2,513 C331,510.5 338,506 343.3,499 C348,492 354,472 358,463.3 C360,458 362,456.3 365,456.3 L372.8,457.9 L397,472.5 C402,476 404.5,480 403,486 L388,522 C385,529 380,533 374.3,536.3 L369.7,538.6" style="stroke-width:5.8;stroke:#444"/>
<path d="M326.2,513 C331,510.5 338,506 343.3,499 C348,492 354,472 358,463.3 C360,458 362,456.3 365,456.3 L372.8,457.9 L397,472.5 C402,476 404.5,480 403,486 L388,522 C385,529 380,533 374.3,536.3 L369.7,538.6" style="stroke-width:4.0;stroke:#fff"/>
<ellipse cx="326.4" cy="512.8" rx="1.6" ry="2.5" transform="rotate(25 326.4 512.8)" class="w" />
<ellipse cx="369.9" cy="538.4" rx="1.6" ry="2.5" transform="rotate(25 369.9 538.4)" class="w" />
<circle cx="373.6" cy="459.4" r="1.3" class="d"/>
<path d="M157.6,547.6 L184.5,531 C186,529.5 186,525.5 184.5,524.1 L175.2,520.2" style="stroke-width:5;stroke:#444"/>
<path d="M157.6,547.6 L184.5,531 C186,529.5 186,525.5 184.5,524.1 L175.2,520.2" style="stroke-width:3.2;stroke:#fff"/>
<ellipse cx="157.6" cy="547.6" rx="1.7" ry="2.2" transform="rotate(30 157.6 547.6)" class="w" />
<polygon points="173.5,517.5 177,519 176,523 172.5,521.5" class="t" />
<polygon points="181.5,521 184,522.5 183,526 180.5,524.5" class="k" />
<line x1="161.5" y1="511.4" x2="174.7" y2="518.7" class="t"/>
<path d="M147,500 L147.5,512 C148,515 150,516.5 153,516.3 C156,516 158.5,514 158.5,511 L158,499.5" class="w" />
<ellipse cx="152.5" cy="499.5" rx="5.4" ry="3.4" class="w" />
<ellipse cx="152.5" cy="499" rx="2.3" ry="1.5" class="k" />
<polygon points="157,505.5 161.5,507.5 161.5,512.5 157,511" class="w" />
<ellipse cx="160.8" cy="510" rx="1.5" ry="2.5" class="k" />
<line x1="147.5" y1="505" x2="158" y2="505" class="t"/>
<line x1="147.5" y1="508" x2="158" y2="508" class="t"/>
<path d="M499.7,420.9 L596,365.3 Q601.5,364.5 602.6,371 L602.6,443.8 L592.3,448.5 L590.4,438.1 C589,431 583,424.5 575,423 C569,422.3 564,424 561.5,428 C560,433 563,440 561,447 C559,454 556,458 558.3,468.5 L505.7,497.5 L498.2,494.2 L498.2,491" class="w" />
<line x1="504.3" y1="425" x2="504.3" y2="497.2" class="th"/>
<polyline points="499.7,420.9 504.3,425" class="th" />
<line x1="498.2" y1="491" x2="504.3" y2="494.5"/>
<line x1="463.5" y1="403.2" x2="564" y2="346.6"/>
<line x1="473.9" y1="409.4" x2="569" y2="354.4" class="th2"/>
<line x1="463.5" y1="403.2" x2="473.9" y2="409.4"/>
<polyline points="564,346.6 574.3,352.2 569,355" />
<path d="M463.5,403.2 L463.5,470.2 Q464,474.5 469,476.5 L475.8,475.8 L482.4,472 L482.4,408.5" />
<line x1="468" y1="407" x2="468" y2="408"/>
<polyline points="568.7,355.1 568.7,421.1 575.3,417.4 575.3,353.8" />
<line x1="570.7" y1="356" x2="570.7" y2="420" class="t"/>
<polyline points="482.4,419.2 495.6,413.6 495.6,449.4 526.7,432.5 526.7,394.7 545,385.3" />
<polyline points="544.2,385.3 544.2,421.1 567.7,411.7" />
<ellipse cx="469.3" cy="443" rx="3.6" ry="7.2" class="grom" />
<ellipse cx="469.3" cy="443" rx="2" ry="5.2" class="gromi" />
<ellipse cx="553.6" cy="376.8" rx="3.6" ry="7.2" class="grom" />
<ellipse cx="553.6" cy="376.8" rx="2" ry="5.2" class="gromi" />
<ellipse cx="586.6" cy="390.5" rx="3.6" ry="7.2" class="grom" />
<ellipse cx="586.6" cy="390.5" rx="2" ry="5.2" class="gromi" />
<ellipse cx="533.8" cy="463.6" rx="3.6" ry="7.2" class="grom" />
<ellipse cx="533.8" cy="463.6" rx="2" ry="5.2" class="gromi" />
<circle cx="475.8" cy="465.5" r="1.3" class="d"/>
<circle cx="513" cy="481.5" r="1.3" class="d"/>
<polygon points="522,358 528,354.5 530.5,356 530.5,363 524.5,366.5 522,365" class="w" />
<line x1="525" y1="357" x2="525" y2="365" class="t"/>
<ellipse cx="527.5" cy="357.5" rx="1.5" ry="1.8" class="k" />
<line x1="529" y1="366" x2="529" y2="403.6" class="t"/>
<line x1="580" y1="353" x2="598" y2="355.5" class="rod"/>
<line x1="581" y1="353.2" x2="597" y2="355.3" class="whi"/>
<ellipse cx="579.5" cy="352.5" rx="1.8" ry="1.4" class="k" />
<ellipse cx="570.6" cy="427.7" rx="1.9" ry="1.9" class="k" />
<polygon points="575,430 578,431 577.5,434 574.5,433" class="k" />
<polygon points="584,452 588,450.5 590,454 587.5,457.5 584.5,457" class="k" />
<line x1="523.2" y1="213.2" x2="533" y2="219.4" class="t"/>
<line x1="560.9" y1="210.4" x2="567.9" y2="206.9" class="t"/>
<path d="M511.5,203 C509,206 509.5,212 512.5,215 L518,216.5 C521.5,215 523,210 521,206 L516,202 Z" class="w" />
<ellipse cx="518.2" cy="209.2" rx="5.8" ry="7.4" transform="rotate(-20 518.2 209.2)" class="w" />
<ellipse cx="519.7" cy="210.4" rx="2.4" ry="2.6" class="t" />
<circle cx="514.1" cy="213.2" r="1.4" class="d"/>
<polygon points="532.2,219.4 549.7,227.1 561.6,222.9 559.5,204.8 542.7,197.1 532.2,203.4" class="w" />
<polyline points="532.2,203.4 549.7,211.1 559.5,204.8" />
<line x1="549.7" y1="211.1" x2="549.7" y2="227.1"/>
<path d="M552.3,204.6 C552.5,202 555,201.3 557.5,202.2 C559.5,203 559.6,205.5 558,206.6" class="t" />
<circle cx="554.6" cy="217.3" r="1.2" class="d"/>
<polygon points="533,220 549.5,228 562,223.2 562,225.5 550.5,231 533.5,223.5" class="w" />
<polyline points="535,223.5 537.5,225.5 542,226.5 546.5,229.5 549.5,231" class="th" />
<polyline points="550.5,231 562,225.5" class="th" />
<ellipse cx="538.5" cy="224.6" rx="1.6" ry="1.2" class="k" />
<ellipse cx="547" cy="229" rx="1.6" ry="1.2" class="k" />
<ellipse cx="528.8" cy="229.2" rx="2.2" ry="1.9" class="k" />
<path d="M538.6,238 L538.6,251 Q541,253 543.4,251 L543.4,238" class="w" />
<ellipse cx="541" cy="237.8" rx="2.4" ry="1.4" class="w" />
<polygon points="538.6,243.5 543.4,243.5 543.4,247 538.6,247" class="k" />
<polygon points="568.3,204 571,202.6 573.5,204.3 573.2,207.6 570.2,208.8 567.9,206.9" class="nut" />
<ellipse cx="570.7" cy="205.7" rx="1" ry="1.2" class="k" />
<polygon points="577.8,200.5 587,193.3 590.4,195.5 591,199.5 582,204.5 578.5,203.5" class="w" />
<line x1="582" y1="197.5" x2="584.5" y2="202.5" class="t"/>
<circle cx="589" cy="196.5" r="1" class="d"/>
<ellipse cx="405.4" cy="89.3" rx="2.2" ry="2.3" class="g2" />
<line x1="405.4" y1="91.5" x2="405.4" y2="95" class="t"/>
<ellipse cx="405.4" cy="96.7" rx="1.4" ry="2.2" class="k" />
<ellipse cx="405.2" cy="103" rx="3.3" ry="1.7" class="k" />
<line x1="405.4" y1="104.5" x2="405.4" y2="110.4" class="t"/>
<ellipse cx="132.2" cy="57.5" rx="1.9" ry="2.2" class="g2" />
<line x1="132.3" y1="59.5" x2="132.3" y2="62" class="t"/>
<ellipse cx="132.4" cy="63.5" rx="1.4" ry="2" class="k" />
<ellipse cx="131.7" cy="72.3" rx="3.2" ry="1.8" class="k" />
<line x1="132" y1="74" x2="132" y2="79.5" class="t"/>
<ellipse cx="531.8" cy="602.8" rx="20" ry="13.6" transform="rotate(12 531.8 602.8)" class="t" />
<ellipse cx="532.7" cy="604" rx="19.7" ry="13.4" transform="rotate(12 532.7 604)" class="t" />
<ellipse cx="533.6" cy="605.2" rx="19.4" ry="13.2" transform="rotate(12 533.6 605.2)" class="t" />
<ellipse cx="534.5" cy="606.4" rx="19.1" ry="13" transform="rotate(12 534.5 606.4)" class="t" />
<path d="M523.2,607.5 q2.5,-3.0 5.0,-10.0" class="fr" />
<path d="M523.2,607.5 q4.5,-2.1 9.0,-7.0" class="fr" />
<path d="M523.2,607.5 q6.0,-0.9 12.0,-3.0" class="fr" />
<path d="M523.2,607.5 q6.5,0.3 13.0,1.0" class="fr" />
<path d="M523.2,607.5 q5.0,1.2 10.0,4.0" class="fr" />
<path d="M544.7,616.5 q-5.0,0.9 -10.0,3.0" class="fr" />
<path d="M544.7,616.5 q-5.5,2.1 -11.0,7.0" class="fr" />
<path d="M544.7,616.5 q-4.0,3.0 -8.0,10.0" class="fr" />
<path d="M544.7,616.5 q-2.0,3.3 -4.0,11.0" class="fr" />
<path d="M544.7,616.5 q-6.0,0.0 -12.0,0.0" class="fr" />
<circle cx="523.2" cy="607.5" r="1.2" class="d"/>
<ellipse cx="591.1" cy="601.1" rx="20" ry="13.6" transform="rotate(12 591.1 601.1)" class="t" />
<ellipse cx="592" cy="602.3" rx="19.7" ry="13.4" transform="rotate(12 592 602.3)" class="t" />
<ellipse cx="592.9" cy="603.5" rx="19.4" ry="13.2" transform="rotate(12 592.9 603.5)" class="t" />
<ellipse cx="593.8" cy="604.7" rx="19.1" ry="13" transform="rotate(12 593.8 604.7)" class="t" />
<path d="M582.5,605.8 q2.5,-3.0 5.0,-10.0" class="fr" />
<path d="M582.5,605.8 q4.5,-2.1 9.0,-7.0" class="fr" />
<path d="M582.5,605.8 q6.0,-0.9 12.0,-3.0" class="fr" />
<path d="M582.5,605.8 q6.5,0.3 13.0,1.0" class="fr" />
<path d="M582.5,605.8 q5.0,1.2 10.0,4.0" class="fr" />
<path d="M604.0,614.8 q-5.0,0.9 -10.0,3.0" class="fr" />
<path d="M604.0,614.8 q-5.5,2.1 -11.0,7.0" class="fr" />
<path d="M604.0,614.8 q-4.0,3.0 -8.0,10.0" class="fr" />
<path d="M604.0,614.8 q-2.0,3.3 -4.0,11.0" class="fr" />
<path d="M604.0,614.8 q-6.0,0.0 -12.0,0.0" class="fr" />
<circle cx="582.5" cy="605.8" r="1.2" class="d"/>
<circle cx="547.9" cy="614.8" r="1.3" class="d"/>
<circle cx="585.4" cy="616.6" r="1.3" class="d"/>
<path d="M515.5,717 C525,710 535,705 557,712 C570,716 590,716 603,702" style='stroke-width:2.6;stroke:#444'/>
<path d="M515.5,717 C525,710 535,705 557,712 C570,716 590,716 603,702" style='stroke-width:1.2;stroke:#fff'/>
<circle cx="556.8" cy="712.2" r="1.5" class="d"/>
<polyline points="132.6,79.8 180.4,107 180.8,207 247,169 247,307" class="l" />
<polyline points="404.5,110 464.5,77.5 464.5,180 376.4,232.2 376.4,279" class="l" />
<polyline points="541.2,251.9 541.2,289.4 327.1,413.1 327.1,511.5" class="l" />
<polyline points="333,291 570.6,427.7" class="l" />
<polyline points="222.1,614 222.1,349.6 305.7,309.2" class="l" />
<polyline points="176.6,718.7 184,722.4 232,694.5" class="l" />
<polyline points="408,527.5 372,549" class="l" />
<polyline points="402,597 346.5,630.9" class="l" />
<polyline points="152.5,515 152.5,570 253.7,512.4 253.7,552" class="l" />
<path class="one" d="M83.5,48.5 L85.8,37.7 L83,40.3"/>
<text transform="translate(90.6,48.5) scale(0.82,1)" text-anchor="middle">7</text>
<line x1="75" y1="51.5" x2="104" y2="51.5" class="l"/>
<polyline points="104,51.5 131,61" class="l" />
<path class="one" d="M83.5,111.5 L85.8,100.7 L83,103.3"/>
<text transform="translate(90.6,111.5) scale(0.82,1)" text-anchor="middle">8</text>
<line x1="75" y1="114.5" x2="104" y2="114.5" class="l"/>
<polyline points="104,114.5 131,74" class="l" />
<text transform="translate(300.3,19.5) scale(0.82,1)" text-anchor="middle">2</text>
<text transform="translate(307.8,19.5) scale(0.82,1)" text-anchor="middle">0</text>
<line x1="289.4" y1="22.5" x2="321" y2="22.5" class="l"/>
<polyline points="289.4,22.5 246.5,54" class="l" />
<text transform="translate(394.6,19.5) scale(0.82,1)" text-anchor="middle">5</text>
<path class="one" d="M400.6,19.5 L402.9,8.7 L400.1,11.3"/>
<line x1="386" y1="22.5" x2="412" y2="22.5" class="l"/>
<polyline points="386,22.5 444.5,44" class="l" />
<text transform="translate(369.6,69.5) scale(0.82,1)" text-anchor="middle">7</text>
<line x1="359.5" y1="72.5" x2="382" y2="72.5" class="l"/>
<polyline points="382,72.5 404.5,96" class="l" />
<text transform="translate(369.6,119.5) scale(0.82,1)" text-anchor="middle">8</text>
<line x1="359.5" y1="122.5" x2="382" y2="122.5" class="l"/>
<polyline points="382,122.5 403,104" class="l" />
<path class="one" d="M527.8,22.5 L530.1,11.7 L527.3,14.3"/>
<line x1="520.5" y1="25.5" x2="540.5" y2="25.5" class="l"/>
<polyline points="520.5,25.5 478,50" class="l" />
<text transform="translate(559.4,42.5) scale(0.82,1)" text-anchor="middle">2</text>
<line x1="549" y1="45.5" x2="572" y2="45.5" class="l"/>
<polyline points="549,45.5 529,94" class="l" />
<text transform="translate(574.4,68.5) scale(0.82,1)" text-anchor="middle">3</text>
<line x1="564" y1="71.5" x2="587" y2="71.5" class="l"/>
<polyline points="564,71.5 543,111" class="l" />
<text transform="translate(594.4,92.5) scale(0.82,1)" text-anchor="middle">4</text>
<line x1="584" y1="95.5" x2="607" y2="95.5" class="l"/>
<polyline points="584,95.5 549,117.5" class="l" />
<text transform="translate(593.1,160.5) scale(0.82,1)" text-anchor="middle">5</text>
<line x1="583" y1="163.5" x2="605.5" y2="163.5" class="l"/>
<polyline points="583,163.5 558,124" class="l" />
<text transform="translate(538.1,160.5) scale(0.82,1)" text-anchor="middle">6</text>
<line x1="528" y1="163.5" x2="550.5" y2="163.5" class="l"/>
<polyline points="528,163.5 503,131" class="l" />
<text transform="translate(286.5,197.5) scale(0.82,1)" text-anchor="middle">4</text>
<text transform="translate(294,197.5) scale(0.82,1)" text-anchor="middle">6</text>
<line x1="275.9" y1="200.5" x2="307" y2="200.5" class="l"/>
<polyline points="307,200.5 338,230.6" class="l" />
<path class="one" d="M182.5,292.5 L184.8,281.7 L182,284.3"/>
<text transform="translate(189.6,292.5) scale(0.82,1)" text-anchor="middle">8</text>
<line x1="175" y1="295.5" x2="202" y2="295.5" class="l"/>
<polyline points="202,295.5 245,307" class="l" />
<text transform="translate(189.8,318.5) scale(0.82,1)" text-anchor="middle">4</text>
<line x1="180" y1="321.5" x2="202" y2="321.5" class="l"/>
<polyline points="202,321.5 245,313" class="l" />
<path class="one" d="M183.2,344.5 L185.5,333.7 L182.7,336.3"/>
<text transform="translate(190.3,344.5) scale(0.82,1)" text-anchor="middle">9</text>
<line x1="175" y1="347.5" x2="203.5" y2="347.5" class="l"/>
<polyline points="203.5,347.5 246,317" class="l" />
<path class="one" d="M260.4,377.5 L262.7,366.7 L259.9,369.3"/>
<text transform="translate(267.6,377.5) scale(0.82,1)" text-anchor="middle">8</text>
<line x1="252" y1="380.5" x2="281" y2="380.5" class="l"/>
<polyline points="281,380.5 301,321" class="l" />
<text transform="translate(324,377.5) scale(0.82,1)" text-anchor="middle">5</text>
<text transform="translate(331.5,377.5) scale(0.82,1)" text-anchor="middle">0</text>
<line x1="314.8" y1="380.5" x2="343" y2="380.5" class="l"/>
<polyline points="314.8,380.5 310,324.5" class="l" />
<text transform="translate(421.6,283.5) scale(0.82,1)" text-anchor="middle">8</text>
<line x1="409.5" y1="286.5" x2="436" y2="286.5" class="l"/>
<polyline points="409.5,286.5 378,279.5" class="l" />
<text transform="translate(422.8,303.5) scale(0.82,1)" text-anchor="middle">9</text>
<line x1="412" y1="306.5" x2="436" y2="306.5" class="l"/>
<polyline points="412,306.5 378,286" class="l" />
<path class="one" d="M420.4,325.5 L422.7,314.7 L419.9,317.3"/>
<text transform="translate(427.6,325.5) scale(0.82,1)" text-anchor="middle">0</text>
<line x1="412" y1="328.5" x2="441" y2="328.5" class="l"/>
<polyline points="412,328.5 378,289.5" class="l" />
<path class="one" d="M475.8,232.5 L478.1,221.7 L475.3,224.3"/>
<text transform="translate(482.9,232.5) scale(0.82,1)" text-anchor="middle">4</text>
<line x1="467.8" y1="235.5" x2="495.9" y2="235.5" class="l"/>
<polyline points="495.9,235.5 513.9,213.6" class="l" />
<path class="one" d="M475.8,258.5 L478.1,247.7 L475.3,250.3"/>
<text transform="translate(482.9,258.5) scale(0.82,1)" text-anchor="middle">5</text>
<line x1="467.8" y1="261.5" x2="495.9" y2="261.5" class="l"/>
<polyline points="495.9,261.5 528.8,230" class="l" />
<path class="one" d="M475.8,284.5 L478.1,273.7 L475.3,276.3"/>
<text transform="translate(482.9,284.5) scale(0.82,1)" text-anchor="middle">6</text>
<line x1="467.8" y1="287.5" x2="495.9" y2="287.5" class="l"/>
<polyline points="495.9,287.5 538.9,248.8" class="l" />
<path class="one" d="M565.5,259.5 L567.9,248.7 L565,251.3"/>
<path class="one" d="M570,259.5 L572.4,248.7 L569.5,251.3"/>
<line x1="558" y1="262.5" x2="583" y2="262.5" class="l"/>
<polyline points="558,262.5 555.5,217" class="l" />
<path class="one" d="M599.4,259.5 L601.8,248.7 L598.9,251.3"/>
<text transform="translate(606.6,259.5) scale(0.82,1)" text-anchor="middle">2</text>
<line x1="592" y1="262.5" x2="619" y2="262.5" class="l"/>
<polyline points="592,262.5 572,206" class="l" />
<path class="one" d="M604.9,229.5 L607.2,218.7 L604.4,221.3"/>
<text transform="translate(612.1,229.5) scale(0.82,1)" text-anchor="middle">3</text>
<line x1="598" y1="232.5" x2="624" y2="232.5" class="l"/>
<polyline points="598,232.5 587,194.5" class="l" />
<text transform="translate(555.6,318.5) scale(0.82,1)" text-anchor="middle">3</text>
<text transform="translate(563.1,318.5) scale(0.82,1)" text-anchor="middle">9</text>
<line x1="545.5" y1="321.5" x2="575.5" y2="321.5" class="l"/>
<polyline points="545.5,321.5 528,356" class="l" />
<text transform="translate(597.1,318.5) scale(0.82,1)" text-anchor="middle">4</text>
<text transform="translate(604.6,318.5) scale(0.82,1)" text-anchor="middle">0</text>
<line x1="587" y1="321.5" x2="617" y2="321.5" class="l"/>
<polyline points="587,321.5 585.5,352" class="l" />
<text transform="translate(407.1,420.5) scale(0.82,1)" text-anchor="middle">3</text>
<text transform="translate(414.6,420.5) scale(0.82,1)" text-anchor="middle">6</text>
<line x1="397" y1="423.5" x2="427" y2="423.5" class="l"/>
<polyline points="397,423.5 373,459" class="l" />
<text transform="translate(240.6,450.5) scale(0.82,1)" text-anchor="middle">2</text>
<text transform="translate(248.1,450.5) scale(0.82,1)" text-anchor="middle">7</text>
<line x1="230" y1="453.5" x2="261" y2="453.5" class="l"/>
<polyline points="261,453.5 293.5,513" class="l" />
<text transform="translate(106.9,466.5) scale(0.82,1)" text-anchor="middle">3</text>
<text transform="translate(114.4,466.5) scale(0.82,1)" text-anchor="middle">7</text>
<line x1="97.5" y1="469.5" x2="126" y2="469.5" class="l"/>
<polyline points="126,469.5 151,496.5" class="l" />
<text transform="translate(178.6,466.5) scale(0.82,1)" text-anchor="middle">3</text>
<text transform="translate(186.1,466.5) scale(0.82,1)" text-anchor="middle">8</text>
<line x1="168.5" y1="469.5" x2="198.5" y2="469.5" class="l"/>
<polyline points="198.5,469.5 183.5,523" class="l" />
<text transform="translate(433.1,487.5) scale(0.82,1)" text-anchor="middle">2</text>
<path class="one" d="M439.1,487.5 L441.4,476.7 L438.6,479.3"/>
<line x1="423" y1="490.5" x2="452" y2="490.5" class="l"/>
<polyline points="423,490.5 413,524" class="l" />
<text transform="translate(613.2,491.5) scale(0.82,1)" text-anchor="middle">4</text>
<path class="one" d="M619.1,491.5 L621.4,480.7 L618.6,483.3"/>
<line x1="603" y1="494.5" x2="632" y2="494.5" class="l"/>
<polyline points="603,494.5 587,455" class="l" />
<text transform="translate(502.6,536.5) scale(0.82,1)" text-anchor="middle">4</text>
<text transform="translate(510.1,536.5) scale(0.82,1)" text-anchor="middle">5</text>
<line x1="493" y1="539.5" x2="522" y2="539.5" class="l"/>
<polyline points="493,539.5 476,466.5" class="l" />
<text transform="translate(539.9,536.5) scale(0.82,1)" text-anchor="middle">4</text>
<text transform="translate(547.4,536.5) scale(0.82,1)" text-anchor="middle">4</text>
<line x1="530.5" y1="539.5" x2="559" y2="539.5" class="l"/>
<polyline points="530.5,539.5 513,481.5" class="l" />
<text transform="translate(576.1,536.5) scale(0.82,1)" text-anchor="middle">4</text>
<text transform="translate(583.6,536.5) scale(0.82,1)" text-anchor="middle">3</text>
<line x1="566.5" y1="539.5" x2="595.5" y2="539.5" class="l"/>
<polyline points="566.5,539.5 570.5,428.5" class="l" />
<text transform="translate(614.1,535.5) scale(0.82,1)" text-anchor="middle">4</text>
<text transform="translate(621.6,535.5) scale(0.82,1)" text-anchor="middle">2</text>
<line x1="604" y1="538.5" x2="634" y2="538.5" class="l"/>
<polyline points="604,538.5 577,431.5" class="l" />
<path class="one" d="M435.4,551.5 L437.7,540.7 L434.9,543.3"/>
<text transform="translate(442.6,551.5) scale(0.82,1)" text-anchor="middle">9</text>
<line x1="427" y1="554.5" x2="456" y2="554.5" class="l"/>
<polyline points="427,554.5 404.5,585" class="l" />
<path class="one" d="M435.4,574.5 L437.7,563.7 L434.9,566.3"/>
<text transform="translate(442.6,574.5) scale(0.82,1)" text-anchor="middle">8</text>
<line x1="427" y1="577.5" x2="456" y2="577.5" class="l"/>
<polyline points="427,577.5 404.5,595" class="l" />
<text transform="translate(112.6,603.5) scale(0.82,1)" text-anchor="middle">4</text>
<text transform="translate(120.1,603.5) scale(0.82,1)" text-anchor="middle">9</text>
<line x1="102.5" y1="606.5" x2="132.5" y2="606.5" class="l"/>
<polyline points="132.5,606.5 173,620" class="l" />
<text transform="translate(74.1,633.5) scale(0.82,1)" text-anchor="middle">3</text>
<text transform="translate(81.6,633.5) scale(0.82,1)" text-anchor="middle">4</text>
<line x1="64" y1="636.5" x2="94" y2="636.5" class="l"/>
<polyline points="94,636.5 122.5,682" class="l" />
<text transform="translate(111.9,633.5) scale(0.82,1)" text-anchor="middle">3</text>
<text transform="translate(119.4,633.5) scale(0.82,1)" text-anchor="middle">5</text>
<line x1="102.5" y1="636.5" x2="131" y2="636.5" class="l"/>
<polyline points="131,636.5 145,672" class="l" />
<text transform="translate(415.8,619.5) scale(0.82,1)" text-anchor="middle">2</text>
<text transform="translate(423.3,619.5) scale(0.82,1)" text-anchor="middle">9</text>
<line x1="404.5" y1="622.5" x2="437" y2="622.5" class="l"/>
<polyline points="404.5,622.5 359.5,635" class="l" />
<polyline points="404.5,622.5 366,638" class="l" />
<text transform="translate(408,642.5) scale(0.82,1)" text-anchor="middle">3</text>
<text transform="translate(415.5,642.5) scale(0.82,1)" text-anchor="middle">0</text>
<line x1="395.2" y1="645.5" x2="430.7" y2="645.5" class="l"/>
<polyline points="395.2,645.5 371,642.3" class="l" />
<text transform="translate(290.4,670.5) scale(0.82,1)" text-anchor="middle">2</text>
<text transform="translate(297.9,670.5) scale(0.82,1)" text-anchor="middle">8</text>
<line x1="279.8" y1="673.5" x2="310.9" y2="673.5" class="l"/>
<polyline points="310.9,673.5 322,637.3" class="l" />
<text transform="translate(303.5,690.5) scale(0.82,1)" text-anchor="middle">3</text>
<text transform="translate(311,690.5) scale(0.82,1)" text-anchor="middle">3</text>
<line x1="293.5" y1="693.5" x2="323.3" y2="693.5" class="l"/>
<polyline points="323.3,693.5 344.4,660.9" class="l" />
<text transform="translate(408.9,678.5) scale(0.82,1)" text-anchor="middle">3</text>
<path class="one" d="M414.8,678.5 L417.1,667.7 L414.3,670.3"/>
<line x1="399.5" y1="681.5" x2="427" y2="681.5" class="l"/>
<polyline points="399.5,681.5 376.7,647.2" class="l" />
<text transform="translate(303.5,713.5) scale(0.82,1)" text-anchor="middle">2</text>
<text transform="translate(311,713.5) scale(0.82,1)" text-anchor="middle">3</text>
<line x1="293.5" y1="716.5" x2="323.3" y2="716.5" class="l"/>
<polyline points="323.3,716.5 345.7,663.4" class="l" />
<text transform="translate(410.3,717.5) scale(0.82,1)" text-anchor="middle">3</text>
<text transform="translate(417.8,717.5) scale(0.82,1)" text-anchor="middle">2</text>
<line x1="399.5" y1="720.5" x2="431" y2="720.5" class="l"/>
<polyline points="399.5,720.5 349.4,677" class="l" />
<text transform="translate(133,729.5) scale(0.82,1)" text-anchor="middle">2</text>
<text transform="translate(140.5,729.5) scale(0.82,1)" text-anchor="middle">2</text>
<line x1="122.5" y1="732.5" x2="153.3" y2="732.5" class="l"/>
<polyline points="153.3,732.5 168.2,715.9" class="l" />
<text transform="translate(134.2,758.5) scale(0.82,1)" text-anchor="middle">2</text>
<text transform="translate(141.7,758.5) scale(0.82,1)" text-anchor="middle">3</text>
<line x1="124" y1="761.5" x2="154.2" y2="761.5" class="l"/>
<polyline points="154.2,761.5 174.7,719.6" class="l" />
<text transform="translate(207.8,758.5) scale(0.82,1)" text-anchor="middle">2</text>
<text transform="translate(215.3,758.5) scale(0.82,1)" text-anchor="middle">4</text>
<line x1="197" y1="761.5" x2="228.5" y2="761.5" class="l"/>
<polyline points="228.5,761.5 260,728" class="l" />
<text transform="translate(304.7,758.5) scale(0.82,1)" text-anchor="middle">2</text>
<text transform="translate(312.2,758.5) scale(0.82,1)" text-anchor="middle">5</text>
<line x1="294.7" y1="761.5" x2="324.5" y2="761.5" class="l"/>
<polyline points="294.7,761.5 278.6,719.3" class="l" />
<text transform="translate(359.4,758.5) scale(0.82,1)" text-anchor="middle">2</text>
<text transform="translate(366.9,758.5) scale(0.82,1)" text-anchor="middle">6</text>
<line x1="349.4" y1="761.5" x2="379.2" y2="761.5" class="l"/>
<polyline points="349.4,761.5 297.2,729.2" class="l" />
<text transform="translate(593.1,647.5) scale(0.82,1)" text-anchor="middle">4</text>
<text transform="translate(600.6,647.5) scale(0.82,1)" text-anchor="middle">8</text>
<line x1="583" y1="650.5" x2="613" y2="650.5" class="l"/>
<polyline points="583,650.5 548,616" class="l" />
<polyline points="583,650.5 585.5,616" class="l" />
<text transform="translate(518.1,748.5) scale(0.82,1)" text-anchor="middle">4</text>
<text transform="translate(525.6,748.5) scale(0.82,1)" text-anchor="middle">7</text>
<line x1="508" y1="751.5" x2="538" y2="751.5" class="l"/>
<polyline points="538,751.5 556.5,712" class="l" />
</svg></body></html>
